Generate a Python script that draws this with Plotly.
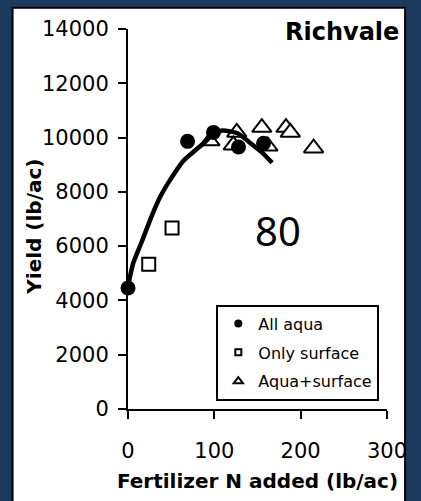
import plotly.graph_objects as go

# Fertilizer N response at Richvale (lb/ac)
aqua_n = [0, 69, 99, 128, 157]
aqua_yield = [4460, 9860, 10190, 9650, 9790]

surface_n = [24, 51]
surface_yield = [5330, 6670]

combo_n = [95, 126, 122, 155, 162, 183, 188, 215]
combo_yield = [9870, 10190, 9720, 10370, 9680, 10370, 10190, 9610]

# Fitted response curve
fit_n = [0, 6, 16, 28, 37, 49, 64, 76, 90, 99, 110, 127, 142, 156, 167]
fit_yield = [4530, 5370, 6170, 7150, 7800, 8450, 9140, 9480, 9860, 10170,
             10260, 10160, 9790, 9430, 9070]

x_ticks = [0, 100, 200, 300]
x_labels = ["0", "100", "200", "300"]
y_ticks = [0, 2000, 4000, 6000, 8000, 10000, 12000, 14000]
y_labels = ["0", "2000", "4000", "6000", "8000", "10000", "12000", "14000"]

NAVY = "rgb(28,58,94)"
TICK_FONT = dict(family="DejaVu Sans", size=21, color="black")
TITLE_FONT = dict(family="DejaVu Sans", size=20, color="black")

fig = go.Figure()

fig.add_trace(go.Scatter(
    x=surface_n, y=surface_yield, mode="markers", showlegend=False,
    marker=dict(symbol="square", size=13, color="white",
                line=dict(color="black", width=2)),
    cliponaxis=False))

fig.add_trace(go.Scatter(
    x=combo_n, y=combo_yield, mode="markers", showlegend=False,
    marker=dict(symbol="triangle-up", size=17, color="white",
                line=dict(color="black", width=2)),
    cliponaxis=False))

fig.add_trace(go.Scatter(
    x=fit_n, y=fit_yield, mode="lines", showlegend=False,
    line=dict(color="black", width=4.5, shape="spline", smoothing=0.6),
    cliponaxis=False))

fig.add_trace(go.Scatter(
    x=aqua_n, y=aqua_yield, mode="markers", showlegend=False,
    marker=dict(symbol="circle", size=15, color="black"),
    cliponaxis=False))

# Legend entries with small key symbols
fig.add_trace(go.Scatter(
    x=[None], y=[None], mode="markers", name="All aqua", legendgroup="a",
    marker=dict(symbol="circle", size=8, color="black")))
fig.add_trace(go.Scatter(
    x=[None], y=[None], mode="markers", name="Only surface", legendgroup="b",
    marker=dict(symbol="square", size=6, color="white",
                line=dict(color="black", width=2))))
fig.add_trace(go.Scatter(
    x=[None], y=[None], mode="markers", name="Aqua+surface", legendgroup="c",
    marker=dict(symbol="triangle-up", size=8, color="white",
                line=dict(color="black", width=2))))

# White panel with a thin dark frame on the navy page
fig.add_shape(type="rect", xref="paper", yref="paper",
              x0=-0.4457, x1=1.0698, y0=-0.25, y1=1.056,
              fillcolor="white", line=dict(color="black", width=2),
              layer="below")

fig.add_annotation(text="<b>Richvale</b>", xref="paper", yref="paper",
                   x=1.054, y=0.992, xanchor="right", yanchor="middle",
                   showarrow=False,
                   font=dict(family="DejaVu Sans", size=24, color="black"))

fig.add_annotation(text="<b>Yield (lb/ac)</b>", xref="paper", yref="paper",
                   x=-0.364, y=0.479, textangle=-90,
                   xanchor="center", yanchor="middle", showarrow=False,
                   font=TITLE_FONT)

fig.add_annotation(text="80", x=174, y=6560, xref="x", yref="y",
                   showarrow=False,
                   font=dict(family="Noto Sans", size=40, color="black"))

fig.update_layout(
    width=421, height=501,
    margin=dict(l=128, r=34, t=29, b=86),
    paper_bgcolor=NAVY, plot_bgcolor="white",
    showlegend=True,
    legend=dict(x=0.341, y=0.2746, xanchor="left", yanchor="top",
                bgcolor="white", bordercolor="black", borderwidth=2,
                font=dict(family="DejaVu Sans", size=16, color="black"),
                tracegroupgap=5, itemwidth=30),
)

fig.update_xaxes(
    range=[0, 300], tickvals=x_ticks, ticktext=x_labels,
    showgrid=False, zeroline=False,
    showline=True, linecolor="black", linewidth=2,
    ticks="outside", ticklen=8, tickwidth=2, tickcolor="black",
    tickfont=TICK_FONT, ticklabelstandoff=14,
    title=dict(text="<b>Fertilizer N added (lb/ac)</b>", font=TITLE_FONT,
               standoff=12))

fig.update_yaxes(
    range=[0, 14000], tickvals=y_ticks, ticktext=y_labels,
    showgrid=False, zeroline=False,
    showline=True, linecolor="black", linewidth=2,
    ticks="outside", ticklen=8, tickwidth=2, tickcolor="black",
    tickfont=TICK_FONT, ticklabelstandoff=5)

fig.write_html("out.html")
